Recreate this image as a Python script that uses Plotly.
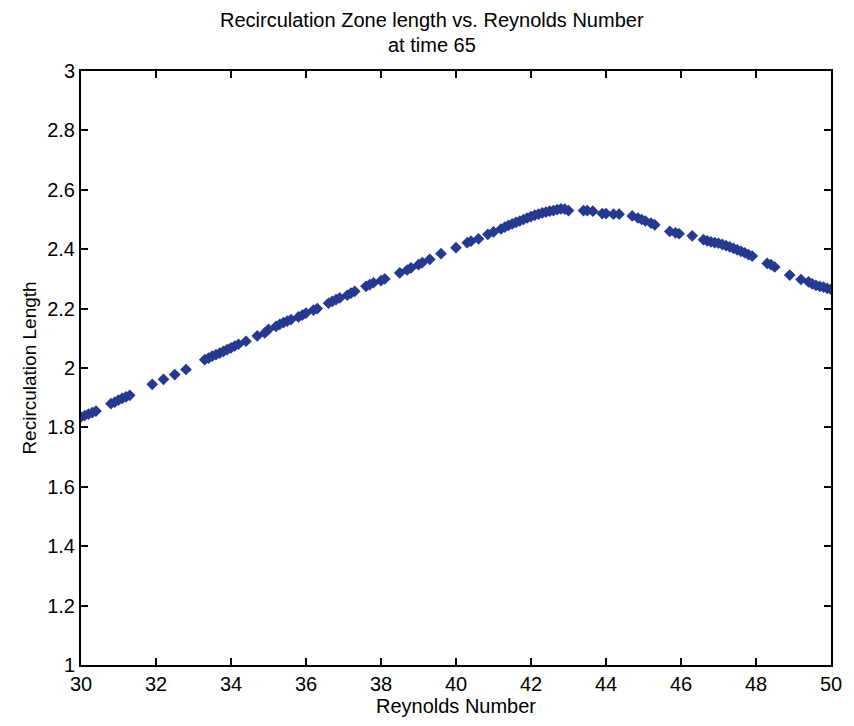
import plotly.graph_objects as go

reynolds = [
    30.0, 30.1, 30.2, 30.3, 30.4, 30.8, 30.9, 31.0, 31.1, 31.2, 31.3,
    31.9, 32.2, 32.5, 32.8,
    33.3, 33.4, 33.5, 33.6, 33.7, 33.8, 33.9, 34.0, 34.1, 34.2, 34.4,
    34.7, 34.9, 35.0, 35.2, 35.3, 35.4, 35.5, 35.6, 35.8, 35.9, 36.0, 36.2, 36.3,
    36.6, 36.7, 36.8, 36.9, 37.1, 37.2, 37.3,
    37.6, 37.7, 37.8, 38.0, 38.1,
    38.5, 38.7, 38.8, 39.0, 39.1, 39.3, 39.6, 40.0, 40.3, 40.4, 40.6,
    40.85, 41.0, 41.2, 41.3, 41.4, 41.5, 41.6, 41.7, 41.8, 41.9, 42.0,
    42.1, 42.2, 42.3, 42.4, 42.5, 42.6, 42.7, 42.8, 42.9, 43.0,
    43.4, 43.5, 43.65, 43.9, 44.0, 44.2, 44.35,
    44.7, 44.85, 44.95, 45.05, 45.2, 45.3,
    45.7, 45.85, 45.95, 46.3,
    46.6, 46.7, 46.8, 46.9, 47.0, 47.1, 47.2, 47.3, 47.4, 47.5, 47.6, 47.7, 47.8, 47.9,
    48.3, 48.4, 48.5, 48.9,
    49.2, 49.4, 49.5, 49.6, 49.7, 49.8, 49.9, 50.0,
]

recirc_length = [
    1.835, 1.840, 1.845, 1.850, 1.855, 1.880, 1.885, 1.892, 1.898, 1.903, 1.908,
    1.945, 1.962, 1.978, 1.995,
    2.028, 2.033, 2.040, 2.045, 2.050, 2.056, 2.062, 2.068, 2.074, 2.080, 2.090,
    2.108, 2.118, 2.130, 2.140, 2.147, 2.153, 2.158, 2.163, 2.172, 2.178, 2.185, 2.195, 2.200,
    2.218, 2.224, 2.230, 2.236, 2.245, 2.252, 2.258,
    2.275, 2.281, 2.287, 2.294, 2.300,
    2.320, 2.330, 2.337, 2.348, 2.355, 2.366, 2.385, 2.405, 2.422, 2.427, 2.435,
    2.450, 2.458, 2.468, 2.474, 2.480, 2.485, 2.490, 2.495, 2.500, 2.505, 2.510,
    2.515, 2.518, 2.522, 2.525, 2.528, 2.530, 2.533, 2.536, 2.535, 2.530,
    2.530, 2.530, 2.528, 2.520, 2.520, 2.518, 2.518,
    2.512, 2.505, 2.500, 2.495, 2.488, 2.482,
    2.460, 2.455, 2.452, 2.445,
    2.432, 2.428, 2.425, 2.422, 2.420, 2.416, 2.412, 2.408, 2.403, 2.398, 2.393, 2.388, 2.382, 2.377,
    2.352, 2.348, 2.340, 2.313,
    2.298, 2.290, 2.283, 2.278, 2.275, 2.272, 2.268, 2.265,
]

x_ticks = list(range(30, 51, 2))
y_ticks = [1, 1.2, 1.4, 1.6, 1.8, 2, 2.2, 2.4, 2.6, 2.8, 3]
y_tick_labels = ["1", "1.2", "1.4", "1.6", "1.8", "2", "2.2", "2.4", "2.6", "2.8", "3"]
title_lines = ["Recirculation Zone length vs. Reynolds Number", "at time 65"]

FONT = "Liberation Sans, Arial, sans-serif"

fig = go.Figure()
fig.add_trace(go.Scatter(
    x=reynolds, y=recirc_length, mode="markers",
    marker=dict(symbol="diamond", size=9, color="#26398f", line=dict(width=0)),
    showlegend=False,
))

axis_common = dict(
    showgrid=False, zeroline=False, showline=True, linecolor="black", linewidth=2,
    mirror="ticks", ticks="inside", ticklen=7, tickwidth=1.5, tickcolor="black",
    tickfont=dict(family=FONT, size=20, color="black"),
)

fig.update_layout(
    width=854, height=726,
    margin=dict(l=81, r=13, t=71, b=61),
    paper_bgcolor="white", plot_bgcolor="white",
    font=dict(family=FONT, color="black"),
    xaxis=dict(
        range=[30, 50], tickvals=x_ticks, ticktext=[str(v) for v in x_ticks],
        title=dict(text="Reynolds Number", font=dict(family=FONT, size=20), standoff=2),
        **axis_common,
    ),
    yaxis=dict(
        range=[1, 3], tickvals=y_ticks, ticktext=y_tick_labels,
        title=dict(text="Recirculation Length", font=dict(family=FONT, size=19), standoff=6),
        **axis_common,
    ),
)

for line_text, ypos in zip(title_lines, [1 + (71 - 20) / 594, 1 + (71 - 45) / 594]):
    fig.add_annotation(
        text=line_text, xref="paper", yref="paper", x=(437 - 81) / 760, y=ypos,
        xanchor="center", yanchor="middle", showarrow=False,
        font=dict(family=FONT, size=20, color="black"),
    )

fig.write_html("out.html")
